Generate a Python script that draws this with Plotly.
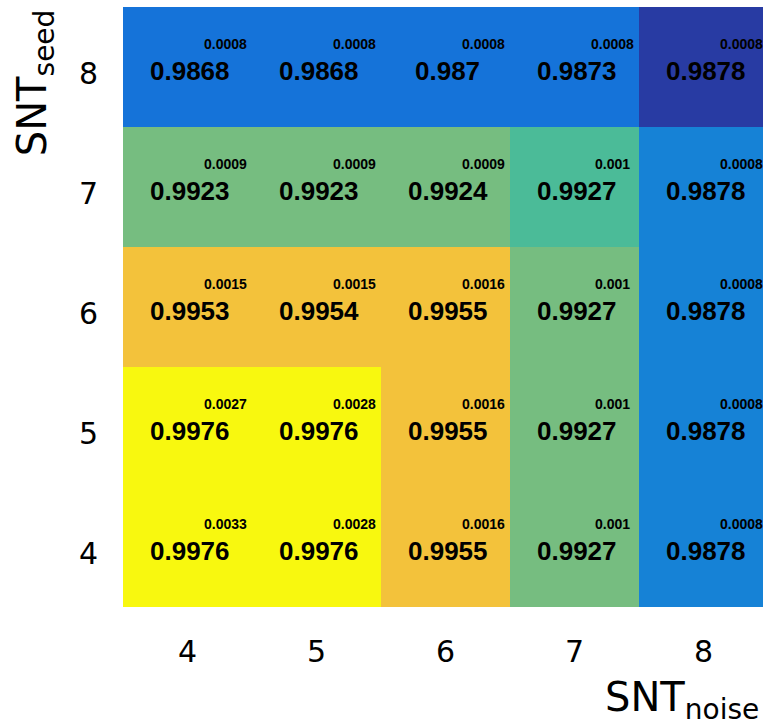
import plotly.graph_objects as go

# Grid axes
snt_noise = [4, 5, 6, 7, 8]
snt_seed = [4, 5, 6, 7, 8]

# Mean score per cell, rows ordered by snt_seed (4 -> 8), columns by snt_noise
mean_score = [
    ["0.9976", "0.9976", "0.9955", "0.9927", "0.9878"],
    ["0.9976", "0.9976", "0.9955", "0.9927", "0.9878"],
    ["0.9953", "0.9954", "0.9955", "0.9927", "0.9878"],
    ["0.9923", "0.9923", "0.9924", "0.9927", "0.9878"],
    ["0.9868", "0.9868", "0.987", "0.9873", "0.9878"],
]

# Spread per cell
spread = [
    ["0.0033", "0.0028", "0.0016", "0.001", "0.0008"],
    ["0.0027", "0.0028", "0.0016", "0.001", "0.0008"],
    ["0.0015", "0.0015", "0.0016", "0.001", "0.0008"],
    ["0.0009", "0.0009", "0.0009", "0.001", "0.0008"],
    ["0.0008", "0.0008", "0.0008", "0.0008", "0.0008"],
]

# Colour class of each cell
level = [
    [6, 6, 5, 4, 2],
    [6, 6, 5, 4, 2],
    [5, 5, 5, 4, 2],
    [4, 4, 4, 3, 2],
    [1, 1, 1, 1, 0],
]

palette = ["#283ba3", "#1573d9", "#1682d6", "#4bbb98", "#76bd80", "#f3c23b", "#f8f80f"]
n = len(palette)
colorscale = []
for i, c in enumerate(palette):
    colorscale.append([i / n, c])
    colorscale.append([(i + 1) / n, c])

fig = go.Figure(
    go.Heatmap(
        x=snt_noise,
        y=snt_seed,
        z=level,
        zmin=-0.5,
        zmax=n - 0.5,
        colorscale=colorscale,
        showscale=False,
        hoverinfo="skip",
    )
)

annotations = []
for r, yv in enumerate(snt_seed):
    for c, xv in enumerate(snt_noise):
        annotations.append(dict(
            x=xv, y=yv, xref="x", yref="y", text=mean_score[r][c], showarrow=False,
            xshift=2, yshift=-4,
            font=dict(family="Liberation Sans, Arial, sans-serif", size=26, color="black", weight="bold"),
        ))
        annotations.append(dict(
            x=xv, y=yv, xref="x", yref="y", text=spread[r][c], showarrow=False,
            xshift=38, yshift=23,
            font=dict(family="Liberation Sans, Arial, sans-serif", size=14, color="black", weight="bold"),
        ))

title_font = dict(family="DejaVu Sans, sans-serif", size=40, color="black")
annotations.append(dict(
    x=-0.1375, y=0.873, xref="paper", yref="paper", text="SNT<sub>seed</sub>",
    xanchor="center", yanchor="middle",
    textangle=-90, showarrow=False, font=title_font,
))
annotations.append(dict(
    x=0.873, y=-0.155, xref="paper", yref="paper", text="SNT<sub>noise</sub>",
    xanchor="center", yanchor="middle",
    showarrow=False, font=title_font,
))

tick_font = dict(family="DejaVu Sans, sans-serif", size=30, color="black")
fig.update_layout(
    width=763,
    height=726,
    margin=dict(l=123, r=0, t=7, b=119),
    paper_bgcolor="white",
    plot_bgcolor="white",
    annotations=annotations,
    xaxis=dict(
        range=[3.5, 3.5 + 640 / 129], tickvals=snt_noise, ticktext=[str(v) for v in snt_noise],
        showgrid=False, zeroline=False, showline=False, ticks="",
        tickfont=tick_font, ticklabelstandoff=24,
    ),
    yaxis=dict(
        range=[3.5, 8.5], tickvals=snt_seed, ticktext=[str(v) for v in snt_seed],
        showgrid=False, zeroline=False, showline=False, ticks="",
        tickfont=tick_font, ticklabelstandoff=24, ticklabelshift=6,
    ),
)

fig.write_html("out.html")
